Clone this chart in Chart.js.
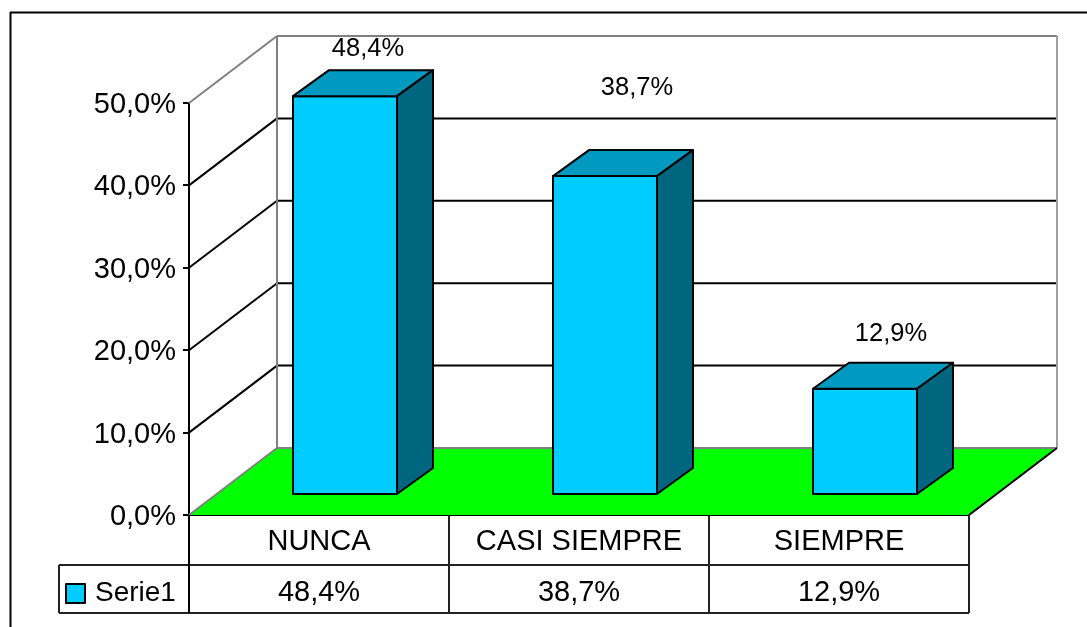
<!DOCTYPE html>
<html>
<head>
<meta charset="utf-8">
<title>Serie1</title>
<script src="https://cdn.jsdelivr.net/npm/chart.js@4"></script>
<style>
  html, body { margin: 0; padding: 0; background: #fff; overflow: hidden; }
  canvas { display: block; }
</style>
</head>
<body>
<canvas id="myChart" width="1087" height="627"></canvas>
<script>
const categories = ["NUNCA", "CASI SIEMPRE", "SIEMPRE"];
const seriesName = "Serie1";
const seriesValues = [48.4, 38.7, 12.9];
const valueLabels = ["48,4%", "38,7%", "12,9%"];
const yTickValues = [0, 10, 20, 30, 40, 50];
const yTickLabels = ["0,0%", "10,0%", "20,0%", "30,0%", "40,0%", "50,0%"];

// how far the data labels sit from the bar, they are not centred in the original
const labelShiftX = [23, 32, 26];
const labelShiftY = [47, 88, 55];

const FONT = "Liberation Sans";

// 3D look: back wall offset and bar offset/depth, in pixels
const wallDX = 88, wallDY = -67;
const barDX = 26, barDY = -20;
const depthX = 36, depthY = -26;

function line(ctx, x1, y1, x2, y2, color, width) {
  ctx.strokeStyle = color;
  ctx.lineWidth = width;
  ctx.beginPath();
  ctx.moveTo(x1, y1);
  ctx.lineTo(x2, y2);
  ctx.stroke();
}

function poly(ctx, points, fill) {
  ctx.beginPath();
  points.forEach((p, i) => (i ? ctx.lineTo(p[0], p[1]) : ctx.moveTo(p[0], p[1])));
  ctx.closePath();
  if (fill) {
    ctx.fillStyle = fill;
    ctx.fill();
  }
  ctx.strokeStyle = "#000";
  ctx.lineWidth = 2;
  ctx.lineJoin = "round";
  ctx.stroke();
}

const fake3d = {
  id: "fake3d",
  beforeDraw(chart) {
    // y tick labels sit a little below their tick in the original
    chart.scales.y.getLabelItems(chart.chartArea).forEach((item) => {
      item.options.translation[1] += 2;
    });
  },
  beforeDatasetsDraw(chart) {
    const ctx = chart.ctx;
    const { left, right } = chart.chartArea;
    const y = chart.scales.y;
    const y0 = y.getPixelForValue(0);
    const yMax = y.getPixelForValue(50);

    ctx.save();
    // frame of the picture, only top and left are visible
    line(ctx, 10, 12.5, 1087, 12.5, "#000", 2);
    line(ctx, 10.5, 12, 10.5, 627, "#000", 2);

    // grid on the back wall and the left wall
    yTickValues.forEach((v) => {
      const py = y.getPixelForValue(v);
      if (v > 0 && v < 50) {
        line(ctx, left, py, left + wallDX, py + wallDY, "#000", 2);
        line(ctx, left + wallDX, py + wallDY, right + wallDX, py + wallDY, "#000", 2);
      }
    });

    // floor
    ctx.beginPath();
    ctx.moveTo(left, y0);
    ctx.lineTo(left + wallDX, y0 + wallDY);
    ctx.lineTo(right + wallDX, y0 + wallDY);
    ctx.lineTo(right, y0);
    ctx.closePath();
    ctx.fillStyle = "#00ff00";
    ctx.fill();

    // wall edges
    const gray = "#808080";
    line(ctx, left, yMax, left + wallDX, yMax + wallDY, gray, 2);
    line(ctx, left + wallDX, yMax + wallDY, right + wallDX, yMax + wallDY, gray, 2);
    line(ctx, left + wallDX, yMax + wallDY, left + wallDX, y0 + wallDY, gray, 2);
    line(ctx, right + wallDX, yMax + wallDY, right + wallDX, y0 + wallDY, "#a0a0a0", 2);
    line(ctx, left, y0, left + wallDX, y0 + wallDY, gray, 2);
    line(ctx, left + wallDX, y0 + wallDY, right + wallDX, y0 + wallDY, gray, 2);
    line(ctx, right, y0, right + wallDX, y0 + wallDY, "#000", 2);
    ctx.restore();

    // the real bars get drawn shifted into the middle of the floor
    ctx.save();
    ctx.translate(barDX, barDY);
  },
  afterDatasetsDraw(chart) {
    const ctx = chart.ctx;
    ctx.restore();
    const bars = chart.getDatasetMeta(0).data;
    const y = chart.scales.y;
    const x = chart.scales.x;
    const y0 = y.getPixelForValue(0);
    const { left, right } = chart.chartArea;

    ctx.save();
    // front outline, top and side faces of each bar
    bars.forEach((bar) => {
      const half = bar.width / 2;
      const l = bar.x - half + barDX;
      const r = bar.x + half + barDX;
      const t = bar.y + barDY;
      const b = bar.base + barDY;
      poly(ctx, [[l, t], [r, t], [r, b], [l, b]], null);
      poly(ctx, [[l, t], [l + depthX, t + depthY], [r + depthX, t + depthY], [r, t]], "#0099bf");
      poly(ctx, [[r, t], [r + depthX, t + depthY], [r + depthX, b + depthY], [r, b]], "#006680");
    });

    // value labels above the bars
    ctx.fillStyle = "#000";
    ctx.font = "25.5px '" + FONT + "'";
    ctx.textAlign = "center";
    ctx.textBaseline = "middle";
    bars.forEach((bar, i) => {
      ctx.fillText(valueLabels[i], bar.x + barDX + labelShiftX[i], bar.y + barDY - labelShiftY[i]);
    });

    // data table under the chart
    const rowA = y0 + 50;
    const rowB = y0 + 98;
    const tableLeft = 59;
    const dark = "#222";
    line(ctx, tableLeft, rowA, right, rowA, dark, 2);
    line(ctx, tableLeft, rowB, right, rowB, dark, 2);
    line(ctx, tableLeft, rowA, tableLeft, rowB, dark, 2);
    categories.forEach((c, i) => {
      const cellRight = x.getPixelForValue(i) + (right - left) / categories.length / 2;
      line(ctx, cellRight, y0, cellRight, rowB, dark, 2);
    });
    line(ctx, left, y0, left, rowB, "#000", 2);

    ctx.font = "29px '" + FONT + "'";
    ctx.fillStyle = "#000";
    valueLabels.forEach((t, i) => ctx.fillText(t, x.getPixelForValue(i), rowA + 28));

    // legend key and series name
    ctx.fillStyle = "#00ccff";
    ctx.fillRect(66, rowA + 19, 19, 19);
    ctx.strokeStyle = "#000";
    ctx.lineWidth = 2;
    ctx.strokeRect(66, rowA + 19, 19, 19);
    ctx.fillStyle = "#000";
    ctx.font = "28px '" + FONT + "'";
    ctx.textAlign = "left";
    ctx.fillText(seriesName, 95, rowA + 28);
    ctx.restore();
  },
};

const ctx = document.getElementById("myChart").getContext("2d");
new Chart(ctx, {
  type: "bar",
  data: {
    labels: categories,
    datasets: [
      {
        label: seriesName,
        data: seriesValues,
        backgroundColor: "#00ccff",
        borderWidth: 0,
        categoryPercentage: 1,
        barPercentage: 0.4,
      },
    ],
  },
  options: {
    responsive: false,
    animation: false,
    events: [],
    layout: { padding: { top: 103, right: 118, left: 0, bottom: 0 } },
    plugins: { legend: { display: false }, tooltip: { enabled: false } },
    scales: {
      x: {
        afterFit: (scale) => { scale.height = 112; },
        grid: { display: false },
        border: { display: true, color: "#000", width: 2 },
        ticks: {
          color: "#000",
          padding: 2,
          maxRotation: 0,
          autoSkip: false,
          font: { family: FONT, size: 29 },
        },
      },
      y: {
        min: 0,
        max: 50,
        afterFit: (scale) => { scale.width = 189; },
        afterBuildTicks: (scale) => { scale.ticks = yTickValues.map((value) => ({ value })); },
        grid: { drawOnChartArea: false, drawTicks: true, tickLength: 6, color: "#000", lineWidth: 2 },
        border: { display: true, color: "#000", width: 2 },
        ticks: {
          color: "#000",
          padding: 7,
          font: { family: FONT, size: 29 },
          callback: (value, index) => yTickLabels[index],
        },
      },
    },
  },
  plugins: [fake3d],
});
</script>
</body>
</html>
